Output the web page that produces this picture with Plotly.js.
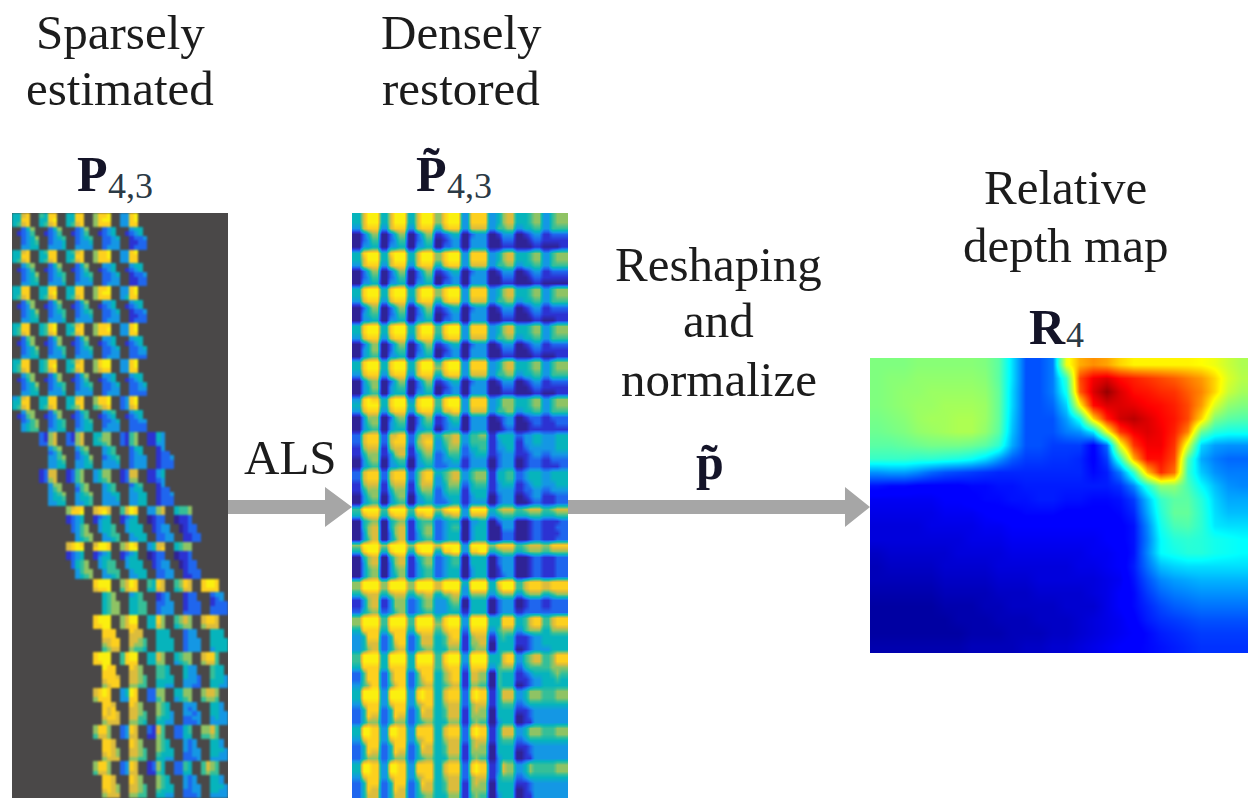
<!DOCTYPE html>
<html><head><meta charset="utf-8">
<script src="https://cdn.plot.ly/plotly-3.0.1.min.js"></script>
<style>html,body{margin:0;padding:0;background:#fff;overflow:hidden}#c{width:1248px;height:798px}</style>
</head><body><div id="c"></div>
<script>
// Sparse matrix: 8 blocks across, 8 rows per block, level digits 0-9, "." = not estimated
const sparseRows = [
"4478.. 5488.. 4488.. 6889.. 3389.. ...... ...... ......",
"4488.. 4489.. 4488.. 6899.. 3389.. ...... ...... ......",
"4578.. 4578.. 4578.. 6888.. 3388.. ...... ...... ......",
"..246. ..246. ..236. ..234. ..344. ...... ...... ......",
".1235. .1235. .1235. .1234. .1234. ...... ...... ......",
"..2346 ..2345 ..2345 ..2234 ..1223 ...... ...... ......",
"..2345 ..2334 ..2334 ..2233 ..1122 ...... ...... ......",
"..3344 ..3334 ..3333 ..2333 ..1222 ...... ...... ......",
"4478.. 4588.. 4578.. 6889.. 3389.. ...... ...... ......",
"4488.. 4488.. 4488.. 6889.. 3388.. ...... ...... ......",
"4578.. 4578.. 4578.. 6888.. 3388.. ...... ...... ......",
"..356. ..246. ..246. ..334. ..344. ...... ...... ......",
".1235. .1235. .1235. .1234. .1234. ...... ...... ......",
"..2346 ..2345 ..2345 ..2234 ..1223 ...... ...... ......",
"..2345 ..2335 ..2334 ..2233 ..1122 ...... ...... ......",
"..3344 ..3334 ..3333 ..2333 ..1122 ...... ...... ......",
"4488.. 4488.. 4488.. 6889.. 3389.. ...... ...... ......",
"4488.. 4489.. 4488.. 6899.. 3389.. ...... ...... ......",
"4578.. 4578.. 4578.. 6888.. 3488.. ...... ...... ......",
"..256. ..246. ..246. ..334. ..344. ...... ...... ......",
".1236. .1235. .1235. .1234. .1234. ...... ...... ......",
"..2346 ..2345 ..2345 ..2234 ..1223 ...... ...... ......",
"..2345 ..2335 ..2334 ..2233 ..1122 ...... ...... ......",
"..3344 ..3334 ..3333 ..2333 ..1222 ...... ...... ......",
"4488.. 4589.. 4578.. 6888.. 3389.. ...... ...... ......",
"4588.. 4589.. 4488.. 6889.. 3389.. ...... ...... ......",
"4578.. 4578.. 4578.. 6888.. 3388.. ...... ...... ......",
"..256. ..246. ..246. ..334. ..344. ...... ...... ......",
".1246. .1236. .1235. .1234. .1234. ...... ...... ......",
"..2346 ..2345 ..2345 ..2234 ..2234 ...... ...... ......",
"..2345 ..2335 ..2334 ..2233 ..2233 ...... ...... ......",
"..3344 ..3334 ..3333 ..2333 ..2222 ...... ...... ......",
"4488.. 4588.. 4578.. 6899.. 3389.. ...... ...... ......",
"4588.. 4589.. 4488.. 6899.. 3389.. ...... ...... ......",
"4578.. 4578.. 4578.. 6788.. 3388.. ...... ...... ......",
"..356. ..246. ..246. ..334. ..344. ...... ...... ......",
".1246. .1236. .1235. .1234. .1234. ...... ...... ......",
"..2346 ..2345 ..2345 ..2234 ..2234 ...... ...... ......",
"..2345 ..2335 ..2334 ..2233 ..2233 ...... ...... ......",
"..3344 ..3334 ..3333 ..2333 ..2222 ...... ...... ......",
"3478.. 4488.. 4478.. 6889.. 2389.. ...... ...... ......",
"4488.. 4488.. 4488.. 6889.. 2389.. ...... ...... ......",
"4578.. 4578.. 4568.. 5678.. 2378.. ...... ...... ......",
"..366. ..256. ..245. ..345. ..344. ...... ...... ......",
".1256. .1236. .1235. .1234. .1234. ...... ...... ......",
"..2356 ..2345 ..2345 ..2234 ..2233 ...... ...... ......",
"..3456 ..2345 ..2344 ..2333 ..2222 ...... ...... ......",
"..3455 ..3344 ..3344 ..3333 ..2222 ...... ...... ......",
"...... 2167.. 2167.. 4466.. 2156.. 1143.. ...... ......",
"...... 2167.. 2167.. 4566.. 2156.. 1143.. ...... ......",
"...... 2267.. 2267.. 4456.. 2156.. 1133.. ...... ......",
"...... ..356. ..356. ..345. ..244. ..13.. ...... ......",
"...... ..235. ..245. ..345. ..234. ..122. ...... ......",
"...... ..3356 ..2346 ..2345 ..2333 ..1223 ...... ......",
"...... ..3345 ..3345 ..3334 ..2333 ..1222 ...... ......",
"...... ..3344 ..3344 ..3333 ..2333 ..1222 ...... ......",
"...... 1277.. 1256.. 3466.. 1277.. 1134.. ...... ......",
"...... 1277.. 1256.. 3466.. 1277.. 1134.. ...... ......",
"...... 1267.. 1256.. 3456.. 1266.. 1123.. ...... ......",
"...... ..366. ..356. ..345. ..245. ..13.. ...... ......",
"...... ..356. ..256. ..345. ..344. ..122. ...... ......",
"...... ..3456 ..3456 ..3344 ..3344 ..1223 ...... ......",
"...... ..3445 ..3445 ..3334 ..3344 ..1222 ...... ......",
"...... ..3344 ..3345 ..3333 ..3344 ..1222 ...... ......",
"...... ...... 6788.. 7887.. 5798.. 3367.. 4556.. ......",
"...... ...... 6889.. 7897.. 5798.. 3367.. 4556.. ......",
"...... ...... 1234.. 1234.. 1234.. 0122.. 0112.. ......",
"...... ...... 1234.. 1344.. 1344.. 0122.. 0112.. ......",
"...... ...... .2356. .3445. .3444. .1233. .0122. ......",
"...... ...... .2356. .3445. .3444. .1233. .0122. ......",
"...... ...... ..3566 ..3455 ..3444 ..2233 ..1122 ......",
"...... ...... ..3456 ..3345 ..3344 ..2233 ..1122 ......",
"...... ...... 7898.. 7998.. 6798.. 3477.. 4566.. ......",
"...... ...... 7899.. 8998.. 6799.. 3478.. 4566.. ......",
"...... ...... 1234.. 1234.. 1234.. 0122.. 0112.. ......",
"...... ...... 1234.. 1344.. 1344.. 0122.. 0112.. ......",
"...... ...... .2456. .3455. .3444. .1233. .0122. ......",
"...... ...... .2456. .3455. .3444. .1233. .0122. ......",
"...... ...... ..3566 ..3555 ..3444 ..2233 ..1222 ......",
"...... ...... ..3456 ..3345 ..3344 ..2233 ..1122 ......",
"...... ...... ...... 8999.. 6798.. 5487.. 5687.. 8998..",
"...... ...... ...... 8999.. 6798.. 5487.. 5687.. 8998..",
"...... ...... ...... 7889.. 5788.. 4477.. 4577.. 8888..",
"...... ...... ...... ..456. ..345. ..123. ..122. ..233.",
"...... ...... ...... ..456. ..445. ..123. ..122. ..123.",
"...... ...... ...... ..4566 ..4455 ..2233 ..1222 ..1222",
"...... ...... ...... ..4566 ..4455 ..2333 ..1222 ..2222",
"...... ...... ...... ..4566 ..4455 ..2333 ..2222 ..2222",
"...... ...... ...... 8999.. 6799.. 4486.. 5676.. 7887..",
"...... ...... ...... 8999.. 6799.. 4486.. 5676.. 7887..",
"...... ...... ...... 8899.. 6788.. 4476.. 4566.. 6777..",
"...... ...... ...... ..888. ..877. ..444. ..233. ..444.",
"...... ...... ...... ..888. ..777. ..444. ..233. ..444.",
"...... ...... ...... ..7788 ..7765 ..4444 ..2333 ..4444",
"...... ...... ...... ..6788 ..7665 ..4444 ..2333 ..4444",
"...... ...... ...... ..5677 ..6554 ..4444 ..2333 ..3444",
"...... ...... ...... 8999.. 5899.. 4476.. 4566.. 7885..",
"...... ...... ...... 8999.. 5899.. 4476.. 4566.. 7885..",
"...... ...... ...... 8899.. 5888.. 4466.. 3456.. 6775..",
"...... ...... ...... ..988. ..876. ..554. ..433. ..544.",
"...... ...... ...... ..888. ..776. ..554. ..433. ..544.",
"...... ...... ...... ..8887 ..7765 ..5544 ..4332 ..5443",
"...... ...... ...... ..7888 ..7765 ..4444 ..3332 ..4443",
"...... ...... ...... ..6788 ..6655 ..4433 ..3322 ..4433",
"...... ...... ...... 7898.. 3498.. 2266.. 4466.. 6776..",
"...... ...... ...... 7898.. 3498.. 2266.. 4466.. 6776..",
"...... ...... ...... 6888.. 3388.. 2256.. 3456.. 5665..",
"...... ...... ...... ..887. ..876. ..654. ..333. ..443.",
"...... ...... ...... ..878. ..776. ..654. ..323. ..443.",
"...... ...... ...... ..8787 ..7765 ..6543 ..3323 ..4433",
"...... ...... ...... ..7887 ..7755 ..5443 ..2233 ..3433",
"...... ...... ...... ..6777 ..6654 ..4433 ..2223 ..3333",
"...... ...... ...... 6886.. 2387.. 2175.. 2245.. 6675..",
"...... ...... ...... 6886.. 2387.. 2175.. 2245.. 6675..",
"...... ...... ...... 5776.. 2377.. 1165.. 2244.. 5565..",
"...... ...... ...... ..887. ..876. ..654. ..323. ..443.",
"...... ...... ...... ..887. ..876. ..654. ..323. ..443.",
"...... ...... ...... ..8876 ..7765 ..6544 ..3233 ..4443",
"...... ...... ...... ..7876 ..7765 ..5444 ..2233 ..4433",
"...... ...... ...... ..6777 ..6655 ..4433 ..2223 ..3333",
"...... ...... ...... 6886.. 2387.. 1264.. 2254.. 5765..",
"...... ...... ...... 6886.. 2387.. 1264.. 2254.. 5765..",
"...... ...... ...... 5776.. 2377.. 1154.. 2244.. 5655..",
"...... ...... ...... ..887. ..876. ..654. ..323. ..443.",
"...... ...... ...... ..887. ..876. ..654. ..323. ..443.",
"...... ...... ...... ..8876 ..7765 ..6544 ..3233 ..4443",
"...... ...... ...... ..7876 ..7765 ..5444 ..2233 ..4433",
"...... ...... ...... ..6777 ..6655 ..4433 ..2223 ..3333"
];
// Restored matrix: 8 blocks across, 6 rows per block
const denseRows = [
"4799 4799 4799 6899 3888 3467 4456 3566",
"4799 4799 4799 6899 3888 3467 4456 3566",
"3788 3788 3788 4788 3777 3556 3445 3555",
"0246 0246 0246 1234 0233 0133 0123 1222",
"0235 0235 0235 0123 0333 0022 0012 1111",
"0334 0334 0334 0223 0333 0011 0001 0001",
"4899 4899 4799 6899 3888 3467 4456 3566",
"4799 4799 4799 6899 3888 3467 4456 3566",
"3788 3788 3788 4788 3777 3556 3445 3555",
"0246 0246 0246 1234 0233 0133 0123 1222",
"0235 0235 0235 0123 0333 0022 0012 1111",
"0334 0334 0334 0223 0333 0011 0001 0000",
"4899 4899 4799 6899 3888 3467 4456 3566",
"4899 4899 4799 6899 3888 3467 4456 3566",
"3788 3788 3788 4788 3777 3556 3445 3555",
"0246 0246 0246 1234 0233 0133 0123 1222",
"0345 0235 0235 0123 0333 0022 0012 1111",
"0334 0334 0334 0223 0333 0011 0001 0011",
"4899 4899 4799 5899 3888 3467 4456 3566",
"4899 4899 4799 5899 3888 3467 4456 3566",
"3788 3788 3788 4788 3777 3556 3445 3555",
"0246 0246 0246 1234 0233 0133 0123 1222",
"0346 0245 0235 0123 0333 0022 0012 1111",
"0345 0334 0334 0223 0333 0011 0001 0011",
"4899 4899 4799 5899 3888 3467 4456 3566",
"4899 4899 4799 6899 3888 3467 4456 3566",
"3788 3788 3788 4788 3777 3556 3445 3555",
"0356 0246 0246 1234 0233 0133 0123 1222",
"0346 0345 0235 0123 0333 0022 0012 1111",
"0345 0344 0334 0223 0333 0011 0001 0011",
"3898 4899 3899 5899 3888 3466 4456 3566",
"4899 4899 4899 5899 3888 3466 4456 3566",
"3788 3788 3788 4778 3777 3556 3445 3555",
"0366 0256 0246 1245 0333 0123 0122 1222",
"0356 0345 0245 1234 0333 0023 0012 1122",
"0345 0344 0334 0233 0333 0012 0011 1111",
"2788 2778 2577 4667 3556 1444 2334 3344",
"2788 2788 2678 3567 3555 1344 1334 3344",
"1677 1677 1567 3466 2445 1334 1233 3344",
"1466 1367 1356 2355 2344 1233 1123 2333",
"0356 0345 0345 2334 1333 0233 0122 1222",
"0345 0334 0334 2233 1333 0233 0122 1112",
"2788 2788 2578 4567 3566 1445 2344 3444",
"2788 2788 2578 3567 3566 1445 2344 3444",
"1677 1677 1577 3466 2455 1344 1234 3344",
"1466 1466 1466 2455 1444 1333 1223 2333",
"0356 0356 0345 2344 1344 0233 0123 1122",
"0345 0345 0334 2234 1333 0233 0012 1122",
"5999 5999 5999 6899 3999 4677 5677 5677",
"4788 4788 4778 4667 3777 3455 4455 4455",
"0456 0456 1455 2344 0334 0233 0012 1112",
"0467 0467 1456 2345 0344 0033 0012 1122",
"0367 0367 1356 2344 0344 0022 0012 1112",
"0357 0357 1345 2344 0344 0022 0012 1122",
"6999 6999 6999 7999 3999 6888 5677 6888",
"4899 4899 4899 4889 3889 4566 4566 5666",
"0467 0467 1456 2345 0444 0233 0012 1122",
"0367 0367 1356 2345 0444 0233 0012 1122",
"0356 0356 1345 2344 0344 0133 0012 1122",
"0356 0346 1345 2344 0344 0123 0012 1122",
"6999 6999 6999 7999 4999 4899 5788 7888",
"6999 6999 6999 7999 3999 4799 5788 7888",
"4677 4677 4667 4667 3666 3566 3566 4566",
"1367 1366 2356 3356 0444 0233 0122 1222",
"1367 1366 2356 3345 0444 0233 0122 1222",
"2456 2356 2345 3344 1444 0233 1222 2222",
"6999 5999 5999 5899 3999 4488 4578 5788",
"6999 5999 5999 6899 3999 4488 4578 5788",
"4888 4888 4888 5788 2888 3566 3566 4666",
"3488 2488 2477 4578 1677 1454 1123 4444",
"3477 2478 2477 4577 1667 0444 1123 4444",
"3467 2467 2456 4466 1566 0444 0123 3444",
"5999 4999 4999 5899 3999 4478 3567 5688",
"5999 4999 4999 5899 3999 4478 3567 5688",
"4888 4888 4888 5788 2888 3566 2455 5666",
"2588 2688 2588 4678 1776 0544 1234 4565",
"2588 2688 2578 4678 1776 0544 1123 4454",
"3568 2578 2567 4567 1665 0544 0123 4444",
"4999 3999 3898 4788 2898 1477 3466 5566",
"4999 3999 3898 4788 2898 1477 3466 5566",
"3788 3788 3678 4677 2677 1455 2344 4444",
"2488 2488 2487 4577 1676 0444 1123 3333",
"2487 2487 2477 4577 1666 0444 0123 3333",
"2466 2466 2456 4466 1565 0344 0113 3333",
"4998 3998 3888 4788 2898 1477 3466 5566",
"4998 3998 3888 4788 2898 1477 3466 5566",
"3788 3788 3678 4677 2677 1455 2344 4444",
"2488 2488 2487 4577 1676 0444 1123 3333",
"2487 2487 2477 4577 1666 0444 0123 3333",
"2466 2466 2456 4466 1565 0344 0113 3333",
"4998 3998 3888 4788 2898 1376 3465 5566",
"4998 3998 3888 4788 2898 1376 3465 5566",
"3788 3788 3678 4677 2677 1455 2344 4444",
"2488 2488 2487 4577 1676 0444 1123 3333",
"2487 2487 2477 4577 1666 0444 0123 3333",
"2477 2477 2456 4466 1565 0344 0113 3333"
];
// Relative depth map values, 0-100
const depthMap = [
[50,50,50,51,51,51,51,51,50,46,33,20,20,24,62,72,75,73,68,65,65,65,65,65,64,62,58,55],
[50,51,51,52,52,52,52,52,51,46,33,20,20,24,42,82,90,92,88,86,84,82,80,77,74,68,60,56],
[50,51,52,52,53,53,53,53,52,47,32,20,20,24,38,80,92,98,92,88,87,85,84,80,76,68,58,54],
[50,51,52,53,53,54,54,54,53,47,32,20,20,22,32,64,88,92,92,91,89,88,86,82,74,60,52,50],
[49,50,51,53,54,54,55,55,53,47,31,20,20,20,27,38,68,86,93,95,92,89,87,82,68,50,46,45],
[48,49,50,52,53,54,55,55,52,46,30,20,20,20,24,26,34,62,84,90,92,90,86,76,48,40,38,38],
[46,46,47,48,49,49,49,48,46,41,28,20,20,18,18,18,12,22,62,84,90,90,84,60,32,27,26,26],
[42,42,42,41,41,40,39,37,33,27,21,18,18,17,17,16,12,18,42,72,88,88,82,45,28,24,22,22],
[26,27,27,25,22,20,19,18,17,16,16,16,16,16,16,16,13,15,24,42,70,85,78,42,31,26,24,24],
[14,13,13,12,12,12,12,13,13,14,14,15,15,15,15,15,15,15,17,25,40,52,52,44,36,30,26,25],
[10,10,10,10,10,11,11,12,13,13,14,14,15,15,14,14,13,13,14,18,30,42,46,46,40,32,28,28],
[9,9,9,9,9,10,10,10,11,12,12,13,13,13,12,12,12,12,13,16,28,40,47,47,41,33,30,30],
[8,8,8,8,9,9,9,9,10,10,11,11,11,11,11,11,11,11,12,14,25,38,44,45,41,34,33,33],
[8,8,8,8,8,8,8,9,9,9,10,10,10,10,10,10,10,11,12,14,24,36,40,41,40,38,37,36],
[6,7,7,7,7,7,8,8,8,8,9,9,9,9,9,9,10,10,11,14,25,36,38,40,40,38,37,36],
[5,6,6,6,6,7,7,7,7,8,8,8,8,8,8,9,9,10,11,15,23,30,32,33,33,33,33,33],
[5,5,5,5,5,6,6,6,6,7,7,7,8,8,8,8,8,9,10,14,20,25,27,28,29,29,29,29],
[4,4,4,4,4,5,5,5,5,6,6,6,7,7,7,7,8,9,11,13,18,22,24,25,26,26,26,26],
[3,3,3,3,3,4,4,4,5,5,6,6,6,6,7,7,7,9,11,13,16,19,21,22,23,23,23,23],
[3,3,3,3,3,3,4,4,4,5,5,5,6,6,6,7,8,9,10,12,15,17,18,19,20,20,20,20],
[3,3,3,3,3,3,3,4,4,4,5,5,5,6,6,7,8,9,10,11,13,15,16,17,18,18,18,18],
[4,4,4,4,4,4,4,5,5,5,5,6,6,7,7,8,9,10,11,12,13,14,15,16,17,17,17,17]
];
// Text labels
const headingLabels = [
  {text:"Sparsely",cx:120,cy:32},{text:"estimated",cx:120,cy:89},
  {text:"Densely",cx:461,cy:32},{text:"restored",cx:461,cy:89},
  {text:"Relative",cx:1065,cy:187},{text:"depth map",cx:1065,cy:245},
  {text:"Reshaping",cx:719,cy:264},{text:"and",cx:719,cy:321},{text:"normalize",cx:719,cy:379},
  {text:"ALS",cx:290,cy:457}
];
const symbolLabels = [
  {text:"<b>P</b>",cx:92,cy:174},
  {text:"<b>P\u0303</b>",cx:431,cy:174},
  {text:"<b>R</b>",cx:1047,cy:327},
  {text:"<b>p\u0303</b>",cx:710,cy:462}
];
const subscriptLabels = [
  {text:"4,3",cx:106,cy:186},{text:"4,3",cx:445,cy:186},{text:"4",cx:1064,cy:335}
];

const W=1248,H=798;
const parse = rows => rows.map(r => r.replace(/ /g,'').split('').map(c => c==='.'?null:+c));
// the narrow dark and bright stripes sit in each block's outer cells, so those take double width
const widenBlocks = z => z.map(r => r.flatMap((v,i) => (i%4===0||i%4===3)?[v,v]:[v]));
const parula = [[0,'#2f2396'],[0.111,'#2c32d2'],[0.222,'#1f66ee'],[0.333,'#1497e4'],[0.444,'#06b4bc'],
  [0.556,'#35bf98'],[0.667,'#8fc364'],[0.778,'#dcbc3c'],[0.889,'#fdd01e'],[1,'#fbf00f']];
const jet = [[0,'#00007f'],[0.11,'#0000ff'],[0.125,'#0000ff'],[0.36,'#00ffff'],[0.5,'#7fff7f'],[0.64,'#ffff00'],[0.89,'#ff0000'],[1,'#7f0000']];

const trace = (z,xa,ya,cs,zmax,smooth) => ({type:'heatmap',z,xaxis:xa,yaxis:ya,colorscale:cs,zmin:0,zmax,
  showscale:false,zsmooth:smooth,hoverinfo:'skip'});
const sparse=parse(sparseRows), dense=widenBlocks(parse(denseRows));
const data=[trace(sparse,'x','y',parula,9,false),trace(dense,'x2','y2',parula,9,'best'),trace(depthMap,'x3','y3',jet,100,'best')];

const axis=(x0,x1,n)=>({domain:[x0/W,x1/W],range:[-0.5,n-0.5],visible:false,fixedrange:true});
const yaxis=(y0,y1,n,xa)=>({domain:[1-y1/H,1-y0/H],range:[n-0.5,-0.5],visible:false,fixedrange:true,anchor:xa});

const ann=(o,size,color,extra)=>Object.assign({xref:'paper',yref:'paper',x:o.cx/W,y:1-o.cy/H,text:o.text,showarrow:false,
  xanchor:'center',yanchor:'middle',font:{family:'"Liberation Serif",serif',size,color}},extra||{});
const annotations=[
  ...headingLabels.map(o=>ann(o,49,'#1c1c1c')),
  ...symbolLabels.map(o=>ann(o,50,'#141428')),
  ...subscriptLabels.map(o=>ann(o,36,'#2b3a45',{xanchor:'left'}))
];
const arrow=(x0,x1,xh,yc,hs,hh)=>{
  const px=x=>(x/W).toFixed(5),py=y=>(1-y/H).toFixed(5);
  return {type:'path',xref:'paper',yref:'paper',fillcolor:'#a6a6a6',line:{width:0},layer:'above',
    path:`M${px(x0)},${py(yc-hs)}L${px(xh)},${py(yc-hs)}L${px(xh)},${py(yc-hh)}L${px(x1)},${py(yc)}L${px(xh)},${py(yc+hh)}L${px(xh)},${py(yc+hs)}L${px(x0)},${py(yc+hs)}Z`};
};
const layout={width:W,height:H,margin:{l:0,r:0,t:0,b:0},paper_bgcolor:'#fff',plot_bgcolor:'#4a4848',showlegend:false,
  xaxis:axis(12,228,48),yaxis:yaxis(213,798,128,'x'),
  xaxis2:axis(352,568,48),yaxis2:yaxis(213,798,96,'x2'),
  xaxis3:axis(870,1248,28),yaxis3:yaxis(358,653,22,'x3'),
  annotations,
  shapes:[arrow(228,352,325,507,7,20),arrow(568,870,845,507,7,20)]
};
Plotly.newPlot('c',data,layout,{staticPlot:true,displayModeBar:false}).then(gd=>{
  const first=gd.querySelector('.hm image');
  if(first) first.style.filter='blur(1.1px)';
});
</script></body></html>
